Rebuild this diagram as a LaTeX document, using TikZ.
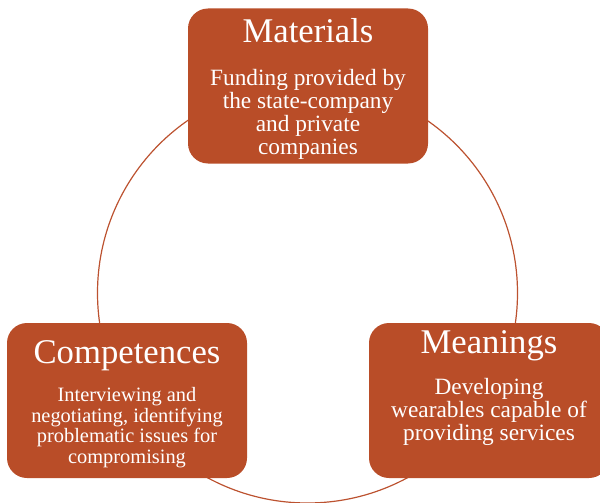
\documentclass[tikz,border=0pt]{standalone}
\usepackage{fontspec}
\setmainfont{Liberation Serif}
\definecolor{boxfill}{RGB}{185,77,40}
\definecolor{ringcol}{RGB}{188,82,48}
\begin{document}
\begin{tikzpicture}[x=0.75pt,y=-0.75pt,
  cyclebox/.style={draw=none,fill=boxfill,rounded corners=15pt,
    minimum width=180pt,minimum height=116.25pt,inner sep=0pt},
  boxtitle/.style={text=white,font=\fontsize{26}{30}\selectfont,anchor=base,inner sep=0pt},
  boxbody/.style={text=white,font=\fontsize{17.5}{17.2}\selectfont,align=center,anchor=north,inner sep=0pt},
  smallbody/.style={boxbody,font=\fontsize{15.3}{15.5}\selectfont}]
\useasboundingbox (0,0) rectangle (600,503);
\draw[ringcol,line width=0.9pt] (307.5,293) circle[radius=157.5pt];
\node[cyclebox] (mat) at (308,86) {};
\node[cyclebox] (com) at (127,400.5) {};
\node[cyclebox] (mea) at (489,400.5) {};
\node[boxtitle] (matT) at (308,43) {Materials};
\node[boxtitle] (comT) at (127,363) {Competences};
\node[boxtitle] (meaT) at (489,353) {Meanings};
\node[boxbody] (matB) at (308,69) {Funding provided by\\the state-company\\and private\\companies};
\node[smallbody] (comB) at (127,387) {Interviewing and\\negotiating, identifying\\problematic issues for\\compromising};
\node[boxbody] (meaB) at (489,378) {Developing\\wearables capable of\\providing services};
\end{tikzpicture}
\end{document}
